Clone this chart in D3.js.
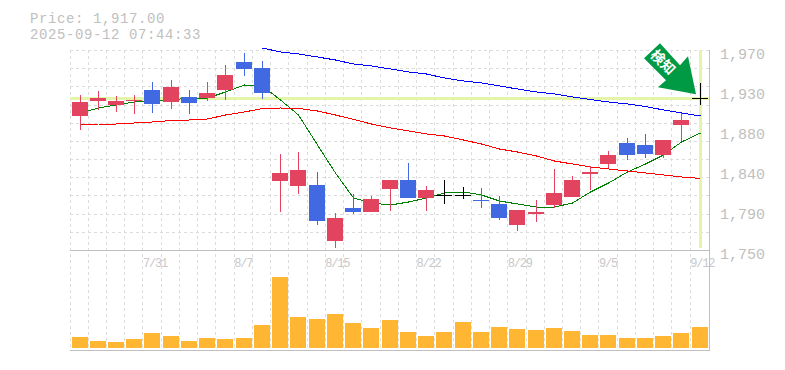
<!DOCTYPE html>
<html lang="en">

<head>
    <meta charset="UTF-8">
    <title>Price chart</title>
    <script src="https://cdn.jsdelivr.net/npm/d3@7/dist/d3.min.js"></script>
    <style>
        html, body { margin: 0; background: #fff; overflow: hidden; }
        svg { display: block; }
        text { font-family: "Liberation Mono", monospace; fill: #c0c0c0; }
    </style>
</head>

<body>
    <script>
        var dates = ["7/25", "7/28", "7/29", "7/30", "7/31", "8/1", "8/4", "8/5", "8/6", "8/7", "8/8", "8/12",
            "8/13", "8/14", "8/15", "8/18", "8/19", "8/20", "8/21", "8/22", "8/25", "8/26", "8/27", "8/28", "8/29",
            "9/1", "9/2", "9/3", "9/4", "9/5", "9/8", "9/9", "9/10", "9/11", "9/12"];
        var dateTicks = ["7/31", "8/7", "8/15", "8/22", "8/29", "9/5", "9/12"];
        var priceTicks = [1970, 1926, 1882, 1838, 1794, 1750];
        var price = 1917;

        var opens = [1897.4, 1913.9, 1909.5, 1913.9, 1926, 1912.8, 1918.3, 1917.2, 1926, 1956.8, 1950.2, 1825.9,
            1820.4, 1821.5, 1759.9, 1796.2, 1791.8, 1817.1, 1827, 1807.2, 1810.5, 1810.5, 1805, 1800.6, 1777.5,
            1789.6, 1799.5, 1808.3, 1833.6, 1844.6, 1867.7, 1865.5, 1854.5, 1887.5, 1917];
        var highs = [1920.5, 1924.9, 1919.4, 1920.5, 1934.8, 1937, 1926, 1934.8, 1953.5, 1966.7, 1957.9, 1855.6,
            1857.8, 1835.8, 1790.7, 1811.6, 1809.4, 1827, 1845.7, 1820.4, 1827, 1819.3, 1818.2, 1809.4, 1794,
            1805, 1839.1, 1831.4, 1842.4, 1858.9, 1873.2, 1877.6, 1871, 1900.7, 1933.7];
        var lows = [1882, 1904, 1901.8, 1899.6, 1900.7, 1905.1, 1899.6, 1913.9, 1915, 1941.4, 1916.1, 1791.8,
            1811.6, 1777.5, 1752.2, 1789.6, 1791.8, 1792.9, 1807.2, 1792.9, 1800.6, 1806.1, 1796.2, 1783, 1770.9,
            1780.8, 1796.2, 1808.3, 1816, 1840.2, 1849, 1851.2, 1851.2, 1869.9, 1909.5];
        var closes = [1912.8, 1917.2, 1913.9, 1915, 1910.6, 1929.3, 1911.7, 1922.7, 1942.5, 1949.1, 1922.7, 1834.7,
            1838, 1781.9, 1785.2, 1791.8, 1806.1, 1827, 1807.2, 1816, 1810.5, 1810.5, 1803.9, 1785.2, 1794,
            1791.8, 1812.7, 1827, 1835.8, 1854.5, 1854.5, 1855.6, 1871, 1893, 1917];

        var ma5 = [1900.7, 1906.2, 1909.5, 1912.8, 1913.9, 1915, 1917.2, 1917.2, 1923.8, 1931.5, 1930.4, 1915,
            1898.5, 1865.5, 1834.7, 1807.2, 1801.7, 1799.5, 1802.8, 1807.2, 1812.7, 1813.8, 1810.5, 1803.9, 1800.6,
            1797.3, 1797.3, 1801.7, 1813.8, 1823.7, 1835.8, 1844.6, 1854.5, 1868.8, 1878.7];
        var ma25 = [1887.5, 1888.6, 1888.6, 1889.7, 1890.8, 1892.5, 1893, 1894.1, 1898.5, 1901.8, 1905.7, 1906.2,
            1905.7, 1902.9, 1898.5, 1893.6, 1888.6, 1884.2, 1880.9, 1877.6, 1875.4, 1871, 1866.6, 1861.1, 1857.8,
            1853.4, 1847.9, 1844.6, 1841.3, 1839.1, 1836.9, 1834.7, 1832.5, 1830.3, 1828.7];
        var ma75 = [null, null, null, null, null, null, null, null, null, null, 1972.2, 1967.8,
            1965.6, 1962.3, 1959, 1954.6, 1952.4, 1949.1, 1945.8, 1943.6, 1939.2, 1935.9, 1933.7, 1930.4, 1927.1,
            1923.8, 1921.6, 1918.3, 1915.6, 1912.8, 1910.6, 1907.9, 1904, 1900.7, 1897.4];

        var volumes = [110, 70, 60, 90, 150, 120, 70, 100, 90, 100, 230, 710,
            310, 290, 340, 250, 200, 280, 160, 120, 160, 260, 160, 210, 190,
            180, 200, 170, 130, 130, 100, 100, 120, 150, 210];

        var nw = 785, nh = 370;
        var left = 70, right = 709, top_ = 50, mid = 250, bottom = 350;
        var barW = 16;

        var osvg = d3.select("body")
            .append("svg")
            .attr("width", nw)
            .attr("height", nh);

        var xscale = d3.scaleBand().domain(dates).range([left, 708.4]);
        var yscale = d3.scaleLinear().domain([1750, 1970]).range([mid, top_]);
        var vscale = d3.scaleLinear().domain([0, 980]).range([348, mid]);

        var slotX = d => Math.floor(xscale(d));
        var barX = d => slotX(d) + 2;
        var centerX = d => slotX(d) + 2 + barW / 2 + .5;
        var lastX = centerX(dates[dates.length - 1]);

        // grid
        var grid = osvg.append("g")
            .attr("stroke", "#dcdcdc")
            .attr("stroke-dasharray", "3 3")
            .attr("shape-rendering", "crispEdges");
        grid.selectAll(".h")
            .data(d3.range(1750, 1971, 20))
            .enter().append("line")
            .attr("x1", left).attr("x2", right)
            .attr("y1", d => Math.round(yscale(d)) + .5)
            .attr("y2", d => Math.round(yscale(d)) + .5);
        grid.selectAll(".v")
            .data(dates)
            .enter().append("line")
            .attr("x1", d => slotX(d) + .5)
            .attr("x2", d => slotX(d) + .5)
            .attr("y1", top_).attr("y2", bottom);

        // current price / last day highlight
        osvg.append("rect")
            .attr("x", left).attr("width", right - left)
            .attr("y", Math.round(yscale(price)) - 1).attr("height", 3)
            .attr("fill", "#e4f5a9");
        osvg.append("rect")
            .attr("x", lastX - 1.5).attr("width", 3)
            .attr("y", top_).attr("height", 198)
            .attr("fill", "#e4f5a9");

        // moving averages
        var line = d3.line()
            .defined(d => d[1] !== null)
            .x(d => centerX(d[0]))
            .y(d => yscale(d[1]));
        [[ma5, "#008000"], [ma25, "#ff0000"], [ma75, "#0000ff"]].forEach(function (s) {
            osvg.append("path")
                .attr("d", line(dates.map((d, i) => [d, s[0][i]])))
                .attr("fill", "none")
                .attr("stroke", s[1])
                .attr("stroke-width", 1)
                .attr("shape-rendering", "crispEdges");
        });

        // candles
        var candleColor = i => closes[i] > opens[i] ? "#e2435f" : closes[i] < opens[i] ? "#4169e1" : "#000";
        var candles = osvg.append("g").attr("shape-rendering", "crispEdges");
        candles.selectAll("line")
            .data(dates)
            .enter().append("line")
            .attr("x1", d => centerX(d))
            .attr("x2", d => centerX(d))
            .attr("y1", (d, i) => yscale(highs[i]))
            .attr("y2", (d, i) => yscale(lows[i]))
            .attr("stroke", (d, i) => candleColor(i));
        candles.selectAll("rect")
            .data(dates)
            .enter().append("rect")
            .attr("x", d => barX(d))
            .attr("width", barW)
            .attr("y", (d, i) => yscale(Math.max(opens[i], closes[i])))
            .attr("height", (d, i) => Math.max(1, Math.abs(yscale(opens[i]) - yscale(closes[i]))))
            .attr("fill", (d, i) => candleColor(i));

        // volume
        osvg.append("g")
            .selectAll("rect")
            .data(dates)
            .enter().append("rect")
            .attr("x", d => barX(d))
            .attr("width", barW)
            .attr("y", (d, i) => vscale(volumes[i]))
            .attr("height", (d, i) => vscale(0) - vscale(volumes[i]))
            .attr("fill", "#ffb733")
            .attr("shape-rendering", "crispEdges");

        // frame
        var frame = osvg.append("g")
            .attr("stroke", "#c0c0c0")
            .attr("shape-rendering", "crispEdges");
        frame.append("line").attr("x1", left).attr("x2", right + 1).attr("y1", mid + .5).attr("y2", mid + .5);
        frame.append("line").attr("x1", left).attr("x2", right + 1).attr("y1", bottom + .5).attr("y2", bottom + .5);
        frame.append("line").attr("x1", right + .5).attr("x2", right + .5).attr("y1", top_).attr("y2", bottom + 1);

        // axes
        var yaxis = d3.axisRight(yscale)
            .tickValues(priceTicks)
            .tickSize(0)
            .tickFormat(d => d3.format(",")(Math.round(d / 10) * 10));
        var ag = osvg.append("g")
            .attr("transform", "translate(720,0)")
            .call(yaxis);
        ag.select(".domain").remove();
        ag.selectAll("text")
            .attr("x", 0).attr("dy", 8)
            .attr("font-size", 15)
            .attr("font-family", null);

        var xaxis = d3.axisBottom(xscale)
            .tickValues(dateTicks)
            .tickSize(0);
        var bg = osvg.append("g")
            .attr("transform", "translate(0," + mid + ")")
            .call(xaxis);
        bg.select(".domain").remove();
        bg.selectAll("text")
            .attr("x", -xscale.bandwidth() / 2)
            .attr("y", 17).attr("dy", 0)
            .attr("text-anchor", "start")
            .attr("font-size", 12)
            .attr("letter-spacing", "-1.2px")
            .attr("font-family", null)
            .style("fill", "#c8c8c8");

        // title
        osvg.append("text").attr("x", 30).attr("y", 22.5).attr("font-size", 14)
            .attr("letter-spacing", "0.6px")
            .text("Price: " + d3.format(",.2f")(price));
        osvg.append("text").attr("x", 30).attr("y", 38.5).attr("font-size", 14)
            .attr("letter-spacing", "0.6px")
            .text("2025-09-12 07:44:33");

        // arrow with label
        var arrow = osvg.append("g")
            .attr("transform", "translate(" + (lastX - 4.5) + "," + (yscale(price) - 4) + ")");
        arrow.append("path")
            .attr("d", "M-36,-51L-52,-36L-30,-14L-38,-7L0,0L-8,-38L-16,-29Z")
            .attr("fill", "#009a44");
        arrow.append("text")
            .attr("transform", "translate(-33,-32) rotate(45)")
            .attr("text-anchor", "middle")
            .attr("dy", 5)
            .attr("font-size", 14)
            .attr("font-weight", "bold")
            .style("font-family", '"Noto Sans CJK JP"')
            .style("fill", "#fff")
            .text("検知");
    </script>
</body>

</html>
